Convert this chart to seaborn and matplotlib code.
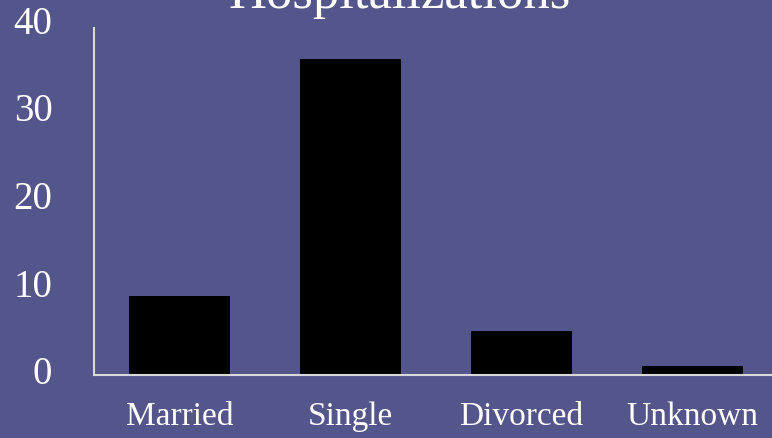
import matplotlib
matplotlib.use("Agg")
import matplotlib.pyplot as plt
import seaborn as sns
import pandas as pd

categories = ["Married", "Single", "Divorced", "Unknown"]
values = [9, 36, 5, 1]
title = "Hospitalizations"

sns.set_theme(style="white")
plt.rcParams['font.family'] = ['Liberation Serif', 'DejaVu Serif']

bg = "#54558a"
fig = plt.figure(figsize=(7.72, 4.38), dpi=100, facecolor=bg)
ax = fig.add_axes([94/772, 63/438, 684/772, 351/438])
ax.set_facecolor(bg)

df = pd.DataFrame({"cat": categories, "val": values})
sns.barplot(data=df, x="cat", y="val", color="black", width=0.585,
            saturation=1, ax=ax, edgecolor="none")

ax.set_xlim(-0.5, 3.5)
ax.set_ylim(0, 40)
ax.set_yticks([0, 10, 20, 30, 40])
ax.set_xlabel("")
ax.set_ylabel("")
for s in ["top", "right"]:
    ax.spines[s].set_visible(False)
for s in ["left", "bottom"]:
    ax.spines[s].set_color("#d9d9d9")
    ax.spines[s].set_linewidth(1.5)
ax.spines["left"].set_bounds(0, 39.5)
ax.tick_params(axis="x", length=0, pad=19, labelsize=24, labelcolor="white")
ax.tick_params(axis="y", length=0, pad=30, labelsize=28, labelcolor="white")
for lbl in ax.get_yticklabels():
    lbl.set_va("center")

fig.text(400/772, 1 - 8/438, title, ha="center", va="baseline",
         fontsize=38, color="white")

fig.savefig("out.png", dpi=100, facecolor=bg)
